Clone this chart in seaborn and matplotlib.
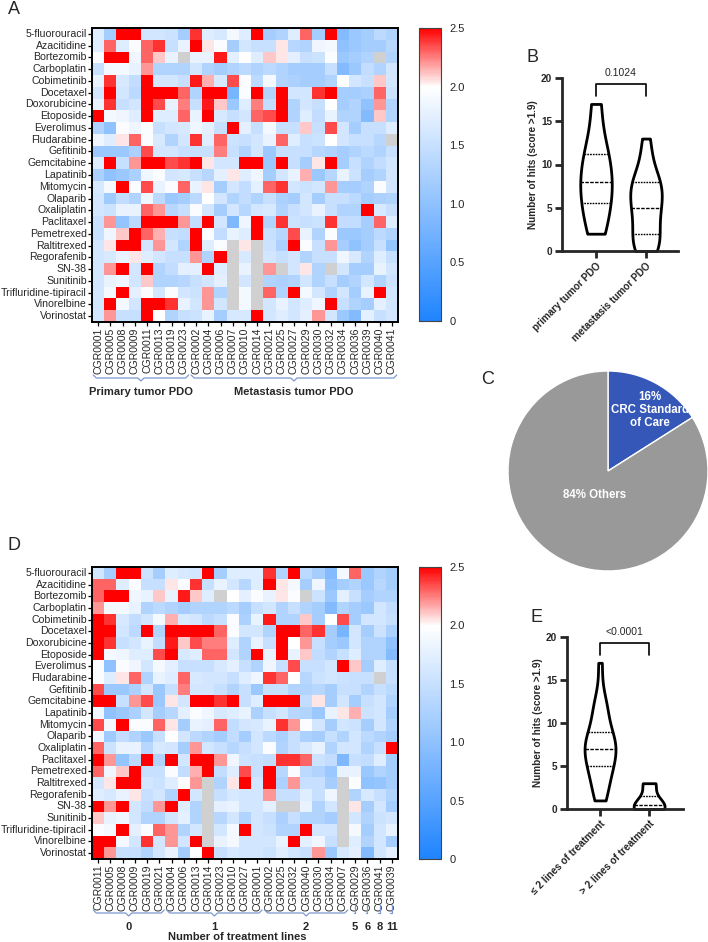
import numpy as np
import pandas as pd
import matplotlib.pyplot as plt
import seaborn as sns
from matplotlib.colors import LinearSegmentedColormap
from matplotlib.transforms import blended_transform_factory

drugs = ['5-fluorouracil', 'Azacitidine', 'Bortezomib', 'Carboplatin', 'Cobimetinib',
         'Docetaxel', 'Doxorubicine', 'Etoposide', 'Everolimus', 'Fludarabine',
         'Gefitinib', 'Gemcitabine', 'Lapatinib', 'Mitomycin', 'Olaparib',
         'Oxaliplatin', 'Paclitaxel', 'Pemetrexed', 'Raltitrexed', 'Regorafenib',
         'SN-38', 'Sunitinib', 'Trifluridine-tipiracil', 'Vinorelbine', 'Vorinostat']

samples = ['CGR0001', 'CGR0005', 'CGR0008', 'CGR0009', 'CGR0011', 'CGR0013', 'CGR0019',
           'CGR0023', 'CGR0002', 'CGR0004', 'CGR0006', 'CGR0007', 'CGR0010', 'CGR0014',
           'CGR0021', 'CGR0025', 'CGR0027', 'CGR0029', 'CGR0030', 'CGR0032', 'CGR0034',
           'CGR0036', 'CGR0039', 'CGR0040', 'CGR0041']

nan = np.nan
# drug response score, one row per drug, columns in the order of panel A
scores = [
    [1.7, 1.2, 2.6, 2.6, 1.6, 1.6, 1.55, 1.2, 2.4, 1.7, 1.65, 1.9, 1.7, 2.6, 1.2, 1.3, 1.7, 2.3, 1.2, 2.6, 0.9, 1.1, 1.2, 1.4, 1.3],
    [1.7, 2.3, 1.7, 1.95, 2.3, 2.4, 1.5, 1.8, 2.6, 2.05, 1.95, 1.2, 1.6, 1.5, 1.5, 2.05, 1.35, 1.3, 1.85, 1.9, 1.0, 1.1, 1.2, 1.2, 1.35],
    [1.95, 2.6, 2.6, 1.85, 2.3, 2.1, 1.8, nan, 1.8, 1.8, 2.45, 1.75, 2.0, 1.7, 2.1, 2.05, 1.75, 1.5, 1.55, 1.95, 1.1, 1.2, 1.3, nan, 1.3],
    [1.5, 1.9, 1.9, 1.8, 2.2, 1.3, 1.3, 1.3, 1.6, 1.3, 1.2, 1.3, 1.4, 1.3, 1.4, 1.3, 1.2, 1.2, 1.2, 1.5, 0.9, 1.1, 1.45, 1.3, 1.6],
    [1.8, 2.4, 1.65, 1.45, 2.6, 1.6, 1.6, 1.5, 2.45, 2.15, 1.65, 2.35, 1.95, 1.4, 1.9, 1.3, 1.25, 1.2, 1.2, 1.3, 2.0, 1.6, 1.5, 2.1, 1.6],
    [1.6, 2.6, 1.6, 1.4, 2.6, 2.6, 2.6, 2.3, 1.3, 2.6, 2.6, 0.8, 1.95, 2.6, 1.3, 2.6, 1.6, 1.6, 2.4, 2.6, 1.2, 1.2, 1.25, 2.3, 1.55],
    [1.8, 2.4, 1.5, 1.6, 2.6, 2.35, 1.8, 2.25, 1.5, 2.45, 2.1, 1.1, 1.7, 2.25, 1.45, 2.6, 1.3, 1.6, 1.5, 2.0, 1.2, 1.3, 1.0, 2.2, 1.3],
    [2.6, 1.9, 1.85, 1.7, 2.6, 1.7, 1.7, 2.3, 1.8, 2.6, 1.65, 1.5, 1.6, 2.3, 2.35, 2.6, 1.3, 1.7, 1.45, 1.8, 1.3, 1.3, 0.9, 2.1, 1.3],
    [1.3, 1.0, 1.95, 1.85, 1.95, 1.5, 1.6, 1.65, 1.85, 1.75, 1.5, 2.6, 1.75, 1.5, 1.9, 1.5, 1.5, 2.1, 1.5, 2.35, 1.6, 1.2, 1.5, 1.5, 1.7],
    [1.85, 1.7, 2.05, 2.3, 1.95, 1.65, 1.3, 1.6, 2.4, 1.7, 2.3, 1.55, 1.5, 1.6, 1.8, 2.3, 1.7, 1.5, 1.55, 2.0, 1.6, 1.5, 1.5, 1.35, nan],
    [1.1, 1.1, 1.1, 1.25, 2.35, 1.6, 1.6, 1.5, 1.5, 1.5, 2.25, 1.5, 1.3, 1.6, 1.1, 1.5, 1.5, 1.5, 1.35, 1.3, 1.2, 1.3, 1.4, 1.3, 1.5],
    [1.7, 2.6, 1.5, 2.2, 2.6, 2.6, 2.35, 2.4, 2.6, 2.05, 1.6, 1.6, 2.6, 2.6, 1.1, 2.6, 1.5, 1.2, 2.05, 2.6, 1.2, 1.5, 1.3, 1.45, 1.6],
    [1.25, 1.0, 1.1, 1.25, 1.85, 1.95, 1.6, 1.65, 1.5, 1.35, 1.75, 2.05, 1.7, 1.85, 1.2, 1.6, 1.8, 2.15, 1.1, 1.35, 1.8, 1.55, 1.2, 1.3, 1.6],
    [1.65, 1.9, 2.6, 1.95, 2.35, 1.8, 1.95, 2.3, 1.8, 2.05, 1.2, 1.6, 1.45, 1.75, 2.3, 2.4, 1.6, 1.55, 1.6, 2.2, 1.2, 1.2, 1.3, 1.95, 1.6],
    [1.6, 1.15, 1.45, 1.3, 1.85, 1.4, 1.1, 1.2, 1.4, 2.0, 1.6, 1.3, 1.45, 1.3, 1.5, 1.25, 1.2, 1.6, 1.2, 1.5, 1.5, 1.4, 1.2, 1.25, 1.3],
    [1.6, 1.55, 1.8, 1.8, 2.3, 2.2, 1.35, 1.5, 1.95, 1.6, 1.2, 1.6, 1.35, 1.6, 1.65, 1.3, 1.5, 1.6, 1.8, 1.5, 1.3, 1.3, 2.6, 1.65, 1.5],
    [1.5, 2.2, 1.05, 1.4, 2.6, 2.6, 2.6, 2.2, 1.45, 2.6, 1.6, 0.85, 1.85, 2.6, 1.3, 2.4, 1.55, 1.5, 1.55, 2.4, 1.45, 1.45, 1.2, 2.3, 1.7],
    [1.5, 1.85, 2.1, 2.6, 2.3, 2.15, 1.5, 1.45, 2.6, 1.95, 1.45, 1.8, 1.7, 2.6, 1.5, 1.35, 2.35, 1.8, 1.3, 1.95, 1.1, 1.1, 1.2, 1.4, 1.3],
    [1.6, 2.05, 2.6, 2.6, 1.6, 2.2, 1.6, 1.3, 2.6, 1.7, 1.95, nan, 2.05, nan, 1.55, 1.25, 2.6, 1.95, 1.5, 2.2, 1.2, 1.0, 1.2, 1.5, 1.05],
    [1.6, 1.65, 1.8, 2.05, 1.7, 1.6, 1.5, 1.5, 2.2, 1.3, 2.6, nan, 1.65, nan, 1.6, 1.5, 1.6, 1.3, 1.5, 1.5, 1.85, 1.65, 1.3, 1.7, 1.5],
    [1.6, 2.2, 2.6, 1.6, 2.6, 1.3, 1.45, 1.75, 1.75, 2.6, 1.7, nan, 1.8, nan, 2.2, nan, 1.6, 2.05, 1.3, nan, 1.6, 1.2, 1.2, 1.8, 1.6],
    [1.6, 1.8, 1.85, 1.6, 2.1, 1.3, 1.3, 1.35, 1.5, 1.6, 1.75, nan, 1.6, nan, 1.3, 1.25, 1.3, 1.6, 1.3, 1.5, 1.2, 1.3, 1.6, 1.3, 1.55],
    [1.6, 1.9, 2.6, 1.75, 1.95, 1.6, 1.95, 1.6, 1.55, 2.2, 1.3, nan, 1.9, nan, 2.3, 1.3, 2.6, 1.9, 1.6, 1.3, 1.6, 1.2, 1.8, 2.6, 1.6],
    [1.6, 2.6, 1.9, 1.6, 2.6, 2.6, 2.4, 1.8, 1.6, 2.2, 1.6, nan, 1.9, nan, 1.6, 1.8, 1.6, 1.7, 1.85, 2.6, 1.5, 1.3, 1.2, 1.75, 1.6],
    [1.6, 2.2, 1.5, 1.5, 2.6, 2.0, 1.3, 1.5, 1.55, 1.8, 1.2, 1.65, 1.65, 2.6, 1.6, 1.7, 1.6, 1.75, 2.2, 1.6, 1.1, 0.9, 1.75, 1.5, 1.6],
]

tumor = ['Primary tumor PDO'] * 8 + ['Metastasis tumor PDO'] * 17
treatment_lines = [1, 0, 0, 0, 0, 1, 0, 1, 2, 1, 1, 2, 1, 1, 0, 2, 1, 5, 2, 2, 2, 6, 11, 2, 8]
hits = [2, 11, 8, 6, 17, 12, 4, 8, 9, 13, 7, 4, 5, 8, 6, 8, 5, 3, 2, 11, 1, 0, 1, 7, 0]

order_d = ['CGR0011', 'CGR0005', 'CGR0008', 'CGR0009', 'CGR0019', 'CGR0021',
           'CGR0004', 'CGR0006', 'CGR0013', 'CGR0014', 'CGR0023', 'CGR0010', 'CGR0027', 'CGR0001',
           'CGR0002', 'CGR0025', 'CGR0032', 'CGR0040', 'CGR0030', 'CGR0034', 'CGR0007',
           'CGR0029', 'CGR0036', 'CGR0041', 'CGR0039']

pie_share = [16, 84]
pie_labels = ['16%\nCRC Standard\nof Care', '84% Others']

sns.set_style('ticks')
plt.rcParams['font.family'] = ['Liberation Sans', 'DejaVu Sans']

W, H = 708, 942
fig = plt.figure(figsize=(W / 100, H / 100), dpi=100)


def box(x0, y0, x1, y1):
    return [x0 / W, 1 - y1 / H, (x1 - x0) / W, (y1 - y0) / H]


def fy(y):
    return 1 - y / H


cmap = LinearSegmentedColormap.from_list(
    'score', [(0, '#1f84ff'), (0.8, '#ffffff'), (1, '#ff0000')])

df_a = pd.DataFrame(scores, index=drugs, columns=samples)
df_d = df_a[order_d]


def draw_heatmap(ax, cax, df):
    ax.set_facecolor('#d0d0d0')
    sns.heatmap(df, ax=ax, cbar_ax=cax, cmap=cmap, vmin=0, vmax=2.5,
                xticklabels=True, yticklabels=True)
    for s in ax.spines.values():
        s.set_visible(True)
        s.set_linewidth(1.4)
        s.set_color('black')
    ax.tick_params(axis='both', length=3, width=0.9, color='black', pad=0.8)
    ax.tick_params(axis='y', labelsize=7.6, labelrotation=0)
    ax.tick_params(axis='x', labelsize=7.6, labelrotation=90)
    ax.set_xlabel('')
    ax.set_ylabel('')
    cbar = ax.collections[0].colorbar
    cbar.set_ticks([0, 0.5, 1.0, 1.5, 2.0, 2.5])
    cbar.set_ticklabels(['0', '0.5', '1.0', '1.5', '2.0', '2.5'])
    cbar.outline.set_linewidth(0.8)
    cbar.outline.set_edgecolor('#444444')
    cax.tick_params(direction='in', left=True, right=True, length=3, width=0.8,
                    labelsize=8, pad=6)


def brace(ax, start, end, y, up=3, dip=3, color='#7d9ad0'):
    tr = blended_transform_factory(ax.transData, fig.transFigure)
    mid = (start + end) / 2
    if end - start < 1.5:
        xs = [mid - 0.12, mid, mid, mid]
        ys = [fy(y), fy(y), fy(y - 8), fy(y - 8)]
    else:
        xs = [start + 0.1, start + 0.35, mid - 0.25, mid, mid + 0.25, end - 0.35, end - 0.1]
        ys = [fy(y - up), fy(y), fy(y), fy(y + dip), fy(y), fy(y), fy(y - up)]
    ax.plot(xs, ys, transform=tr, color=color, lw=0.9, clip_on=False)


# ---- A ----
ax_a = fig.add_axes(box(92, 28, 398, 322))
cax_a = fig.add_axes(box(419, 28, 441, 321))
draw_heatmap(ax_a, cax_a, df_a)
tr_a = blended_transform_factory(ax_a.transData, fig.transFigure)
for name in ['Primary tumor PDO', 'Metastasis tumor PDO']:
    idx = [i for i, t in enumerate(tumor) if t == name]
    s, e = idx[0], idx[-1] + 1
    brace(ax_a, s, e, 378)
    ax_a.text((s + e) / 2, fy(392), name, transform=tr_a, ha='center', va='center',
              fontsize=8, fontweight='bold')

# ---- D ----
ax_d = fig.add_axes(box(92, 567, 398, 859))
cax_d = fig.add_axes(box(419, 567, 441, 859))
draw_heatmap(ax_d, cax_d, df_d)
tr_d = blended_transform_factory(ax_d.transData, fig.transFigure)
lines_d = [treatment_lines[samples.index(s)] for s in order_d]
for g in sorted(set(lines_d)):
    idx = [i for i, v in enumerate(lines_d) if v == g]
    s, e = idx[0], idx[-1] + 1
    brace(ax_d, s, e, 913)
    ax_d.text((s + e) / 2, fy(927), str(g), transform=tr_d, ha='center', va='center',
              fontsize=8, fontweight='bold')
fig.text(237 / W, fy(937), 'Number of treatment lines', ha='center', va='center',
         fontsize=8, fontweight='bold')

# ---- violins ----
df_hits = pd.DataFrame({'sample': samples, 'hits': hits, 'tumor': tumor,
                        'lines': treatment_lines})
df_hits['tumor'] = df_hits['tumor'].str.lower()
df_hits['line_group'] = np.where(df_hits['lines'] <= 2, '≤ 2 lines of treatment',
                                 '> 2 lines of treatment')


def violin(ax, x, order, pval, xl):
    sns.violinplot(data=df_hits, x=x, y='hits', order=order, ax=ax, color='white',
                   linecolor='black', linewidth=2, cut=0, inner='quart',
                   inner_kws=dict(linewidth=1.0, color='black'),
                   density_norm='width', width=0.63, bw_adjust=0.85)
    sns.despine(ax=ax)
    ax.set_ylim(-0.3, 20.3)
    ax.set_xlim(*xl)
    ax.set_yticks([0, 5, 10, 15, 20])
    ax.spines['left'].set_bounds(0, 20)
    ax.spines['bottom'].set_position(('data', 0))
    for s in ['left', 'bottom']:
        ax.spines[s].set_linewidth(2)
    ax.tick_params(width=2, length=5, labelsize=7.2, pad=2)
    for lbl in ax.get_yticklabels():
        lbl.set_fontweight('bold')
    ax.set_xticks(range(len(order)))
    ax.set_xticklabels(order, rotation=45, ha='right', rotation_mode='anchor',
                       fontsize=7.2, fontweight='bold')
    ax.set_xlabel('')
    ax.set_ylabel('Number of hits (score >1.9)', fontsize=7.2, fontweight='bold')
    ax.yaxis.set_label_coords(-0.21, 0.5)
    ax.plot([0, 0, 1, 1], [17.9, 19.3, 19.3, 17.9], color='black', lw=1.2, clip_on=False)
    ax.text(0.5, 20.6, pval, ha='center', va='center', fontsize=7.5)


ax_b = fig.add_axes(box(562, 75.4, 678, 253.6))
violin(ax_b, 'tumor', ['primary tumor pdo', 'metastasis tumor pdo'], '0.1024', (-0.68, 1.64))
ax_b.set_xticklabels(['primary tumor PDO', 'metastasis tumor PDO'], rotation=45, ha='right',
                     rotation_mode='anchor', fontsize=7.2, fontweight='bold')

ax_e = fig.add_axes(box(567, 634.4, 683, 811.6))
violin(ax_e, 'line_group', ['≤ 2 lines of treatment', '> 2 lines of treatment'],
       '<0.0001', (-0.673, 1.69))

# ---- C pie ----
ax_c = fig.add_axes(box(508, 371, 708, 571))
wedges, _ = ax_c.pie(pie_share, colors=['#3558b8', '#999999'], startangle=90,
                     counterclock=False, radius=1)
ax_c.set_xlim(-1, 1)
ax_c.set_ylim(-1, 1)
ax_c.set_aspect('equal')
for w, txt, d in zip(wedges, pie_labels, [0.7, 0.27]):
    ang = np.deg2rad((w.theta1 + w.theta2) / 2)
    ax_c.text(d * np.cos(ang) + (0.08 if d > 0.5 else 0), d * np.sin(ang), txt,
              ha='center', va='center', color='white', fontweight='bold', fontsize=8.3,
              linespacing=1.1)

# panel letters
for letter, x, y in [('A', 14, 9), ('B', 532, 58), ('C', 488, 380), ('D', 14, 545), ('E', 537, 617)]:
    fig.text(x / W, fy(y), letter, ha='center', va='center', fontsize=13)

fig.savefig('out.png', dpi=100)
